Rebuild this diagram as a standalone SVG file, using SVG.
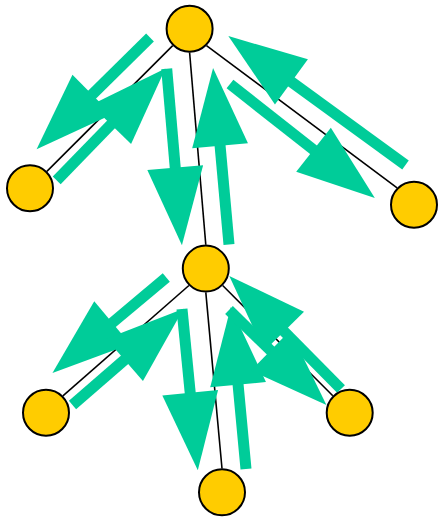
<svg xmlns="http://www.w3.org/2000/svg" width="439" height="518" viewBox="0 0 439 518">
<style>
.edge{stroke:#000;stroke-width:1.6;fill:none}
.flow{stroke:#00CC99;stroke-width:11;stroke-linecap:butt;fill:none;marker-end:url(#head)}
.node{fill:#FFCC00;stroke:#000;stroke-width:2}
</style>
<defs>
<marker id="head" markerUnits="userSpaceOnUse" markerWidth="78" markerHeight="56" viewBox="0 0 78 56" refX="2" refY="28" orient="auto" overflow="visible">
<path d="M0,0 L78,28 L0,56 Z" fill="#00CC99"/>
</marker>
</defs>
<rect width="439" height="518" fill="#fff"/>
<g id="edges">
<line class="edge" x1="172.7" y1="45.6" x2="46.9" y2="171.4"/>
<line class="edge" x1="206.5" y1="45.6" x2="397.1" y2="187.8"/>
<line class="edge" x1="189.6" y1="52.5" x2="205.8" y2="244.8"/>
<line class="edge" x1="188.9" y1="285.5" x2="62.9" y2="395.8"/>
<line class="edge" x1="205.8" y1="292.4" x2="222" y2="468.5"/>
<line class="edge" x1="222.7" y1="285.5" x2="332.8" y2="395.8"/>
</g>
<g id="flow-arrows">
<line class="flow" x1="150" y1="37.5" x2="90.7" y2="96"/>
<line class="flow" x1="56.7" y1="180.3" x2="112.4" y2="123"/>
<line class="flow" x1="166.7" y1="68.7" x2="175.4" y2="169.6"/>
<line class="flow" x1="229" y1="244.5" x2="219.9" y2="143.7"/>
<line class="flow" x1="230" y1="84" x2="315.1" y2="151"/>
<line class="flow" x1="405.5" y1="165" x2="289.8" y2="80.8"/>
<line class="flow" x1="166.3" y1="277.5" x2="110.7" y2="324.1"/>
<line class="flow" x1="72.5" y1="405" x2="126.1" y2="358.5"/>
<line class="flow" x1="182" y1="309" x2="190.4" y2="394.7"/>
<line class="flow" x1="246" y1="469" x2="237.9" y2="382.7"/>
<line class="flow" x1="229" y1="310" x2="272" y2="351.9"/>
<line class="flow" x1="341" y1="389" x2="282.7" y2="330"/>
</g>
<g id="node-top"><circle class="node" cx="189.6" cy="28.7" r="23"/></g>
<g id="node-left"><circle class="node" cx="30" cy="188.3" r="23"/></g>
<g id="node-right"><circle class="node" cx="414" cy="204.7" r="23"/></g>
<g id="node-middle"><circle class="node" cx="205.8" cy="268.6" r="23"/></g>
<g id="node-bottom-left"><circle class="node" cx="46" cy="412.7" r="23"/></g>
<g id="node-bottom-right"><circle class="node" cx="349.7" cy="412.7" r="23"/></g>
<g id="node-bottom"><circle class="node" cx="222" cy="492.3" r="23"/></g>
</svg>
